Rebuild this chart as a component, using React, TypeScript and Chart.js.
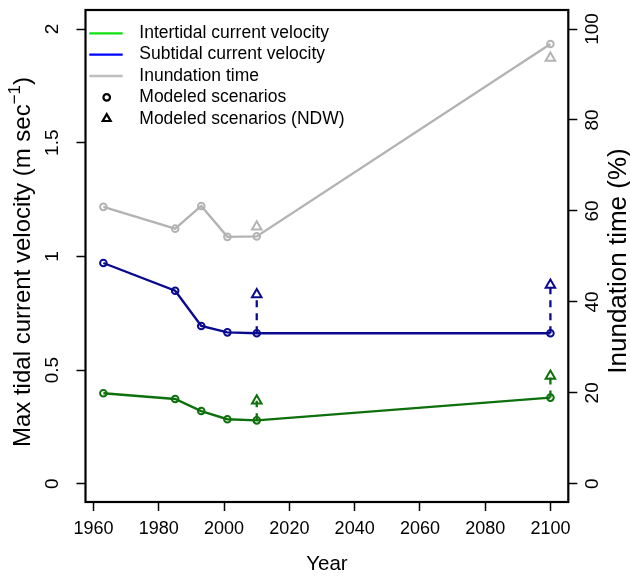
import React, { useEffect, useRef } from "react";
import { Chart, registerables } from "chart.js";

Chart.register(...registerables);

// ---- data ----
const years = [1963, 1985, 1993, 2001, 2010, 2100];
const intertidal = [0.398, 0.373, 0.32, 0.284, 0.279, 0.379];
const subtidal = [0.971, 0.849, 0.694, 0.666, 0.662, 0.662];
const inundation = [60.9, 56.1, 61.1, 54.3, 54.4, 96.7];

const ndwYears = [2010, 2100];
const intertidalNDW = [0.365, 0.474];
const subtidalNDW = [0.833, 0.874];
const inundationNDW = [56.5, 93.6];

const xTicks = [1960, 1980, 2000, 2020, 2040, 2060, 2080, 2100];
const leftTicks = [0, 0.5, 1, 1.5, 2];
const rightTicks = [0, 20, 40, 60, 80, 100];

const legendLabels = [
  "Intertidal current velocity",
  "Subtidal current velocity",
  "Inundation time",
  "Modeled scenarios",
  "Modeled scenarios (NDW)",
];

const xTitle = "Year";
const leftTitle = "Max tidal current velocity (m sec";
const leftTitleSup = "\u22121";
const rightTitle = "Inundation time (%)";

// ---- styles ----
const FONT = "'Liberation Sans', Arial, Helvetica, sans-serif";
const GREEN = "#0d700d";
const BLUE = "#0a0a90";
const GRAY = "#b3b3b3";
const LEG_GREEN = "#10e010";
const LEG_BLUE = "#0000ff";
const LEG_GRAY = "#bebebe";

const pts = (xs: number[], ys: number[]) => xs.map((x, i) => ({ x, y: ys[i] }));

const dashSegments = (base: number[], ndw: number[]) =>
  ndwYears.map((yr, i) => {
    const idx = years.indexOf(yr);
    return [
      { x: yr, y: base[idx] },
      { x: yr, y: ndw[i] },
    ];
  });

const overlayPlugin = {
  id: "overlay",
  afterDraw(chart: any) {
    const { ctx, chartArea } = chart;
    const { left, top, right, bottom } = chartArea;
    ctx.save();
    // box
    ctx.strokeStyle = "#000";
    ctx.lineWidth = 2.2;
    ctx.strokeRect(left, top, right - left, bottom - top);

    // legend
    const lx0 = left + 3.8;
    const lx1 = left + 37.2;
    const sx = left + 21.2;
    const tx = left + 53.8;
    const rowY = (i: number) => top + 23.3 + i * 21.35;
    const legColors = [LEG_GREEN, LEG_BLUE, LEG_GRAY];
    ctx.lineWidth = 2.3;
    legColors.forEach((c, i) => {
      ctx.strokeStyle = c;
      ctx.beginPath();
      ctx.moveTo(lx0, rowY(i));
      ctx.lineTo(lx1, rowY(i));
      ctx.stroke();
    });
    ctx.strokeStyle = "#000";
    ctx.lineWidth = 2.2;
    ctx.beginPath();
    ctx.arc(sx, rowY(3), 3.3, 0, Math.PI * 2);
    ctx.stroke();
    const r = 4.6;
    const cy = rowY(4);
    ctx.beginPath();
    ctx.moveTo(sx, cy - r);
    ctx.lineTo(sx + r * 0.866, cy + r * 0.5);
    ctx.lineTo(sx - r * 0.866, cy + r * 0.5);
    ctx.closePath();
    ctx.stroke();

    ctx.fillStyle = "#000";
    ctx.font = `17.5px ${FONT}`;
    ctx.textAlign = "left";
    ctx.textBaseline = "middle";
    legendLabels.forEach((t, i) => ctx.fillText(t, tx, rowY(i)));

    // x title
    ctx.font = `20.5px ${FONT}`;
    ctx.textAlign = "center";
    ctx.fillText(xTitle, (left + right) / 2, 564);

    // left title with superscript
    ctx.save();
    ctx.translate(23, 262);
    ctx.rotate(-Math.PI / 2);
    const mainFont = `24px ${FONT}`;
    const supFont = `17px ${FONT}`;
    ctx.font = mainFont;
    const w1 = ctx.measureText(leftTitle).width;
    const w3 = ctx.measureText(")").width;
    ctx.font = supFont;
    const w2 = ctx.measureText(leftTitleSup).width;
    const total = w1 + w2 + w3;
    let x = -total / 2;
    ctx.textAlign = "left";
    ctx.font = mainFont;
    ctx.fillText(leftTitle, x, 0);
    x += w1;
    ctx.font = supFont;
    ctx.fillText(leftTitleSup, x, -8);
    x += w2;
    ctx.font = mainFont;
    ctx.fillText(")", x, 0);
    ctx.restore();

    // right title
    ctx.save();
    ctx.translate(619, 261);
    ctx.rotate(-Math.PI / 2);
    ctx.font = `26px ${FONT}`;
    ctx.textAlign = "center";
    ctx.textBaseline = "middle";
    ctx.fillText(rightTitle, 0, 0);
    ctx.restore();

    ctx.restore();
  },
};

export default function App() {
  const ref = useRef<HTMLCanvasElement | null>(null);

  useEffect(() => {
    if (!ref.current) return;
    const circlePoint = {
      pointStyle: "circle",
      pointRadius: 3.3,
      pointBorderWidth: 2,
      pointBackgroundColor: "rgba(0,0,0,0)",
      pointHoverRadius: 3.3,
    };
    const triPoint = {
      showLine: false,
      pointStyle: "triangle",
      pointRadius: 5.5,
      pointBorderWidth: 2,
      pointBackgroundColor: "rgba(0,0,0,0)",
      pointHoverRadius: 5.5,
    };
    const dashed = (seg: any[], color: string) => ({
      data: seg,
      borderColor: color,
      borderWidth: 2.3,
      borderDash: [7, 6],
      pointRadius: 0,
      yAxisID: "y",
    });

    const datasets: any[] = [
      { data: pts(ndwYears, intertidalNDW), borderColor: GREEN, ...triPoint, yAxisID: "y" },
      { data: pts(ndwYears, subtidalNDW), borderColor: BLUE, ...triPoint, yAxisID: "y" },
      { data: pts(ndwYears, inundationNDW), borderColor: GRAY, ...triPoint, yAxisID: "y2" },
      ...dashSegments(intertidal, intertidalNDW).map((s) => dashed(s, GREEN)),
      ...dashSegments(subtidal, subtidalNDW).map((s) => dashed(s, BLUE)),
      { data: pts(years, intertidal), borderColor: GREEN, borderWidth: 2.4, ...circlePoint, yAxisID: "y" },
      { data: pts(years, subtidal), borderColor: BLUE, borderWidth: 2.4, ...circlePoint, yAxisID: "y" },
      { data: pts(years, inundation), borderColor: GRAY, borderWidth: 2.4, ...circlePoint, yAxisID: "y2" },
    ];

    const tickFont = { family: FONT, size: 18 };
    const yTickFont = { family: FONT, size: 19 };
    const gridOpts = {
      display: true,
      drawOnChartArea: false,
      drawTicks: true,
      tickLength: 9,
      tickColor: "#000",
      tickWidth: 1.5,
    };
    const noPad = (s: any) => {
      s.paddingTop = 0;
      s.paddingBottom = 0;
      s.paddingLeft = 0;
      s.paddingRight = 0;
    };

    const chart = new Chart(ref.current, {
      type: "line",
      data: { datasets },
      plugins: [overlayPlugin],
      options: {
        animation: false,
        responsive: false,
        events: [],
        layout: { padding: { top: 10, left: 0, right: 0, bottom: 0 } },
        plugins: { legend: { display: false }, tooltip: { enabled: false } },
        scales: {
          x: {
            type: "linear",
            min: 1957.52,
            max: 2105.48,
            afterBuildTicks: (s: any) => {
              s.ticks = xTicks.map((v) => ({ value: v }));
            },
            afterFit: (s: any) => {
              s.height = 75;
              noPad(s);
            },
            grid: gridOpts,
            border: { display: false },
            ticks: {
              font: tickFont,
              color: "#000",
              padding: 7.5,
              maxRotation: 0,
              minRotation: 0,
              autoSkip: false,
              callback: (v: any) => String(v),
            },
          },
          y: {
            type: "linear",
            position: "left",
            min: -0.08,
            max: 2.0836,
            afterBuildTicks: (s: any) => {
              s.ticks = leftTicks.map((v) => ({ value: v }));
            },
            afterFit: (s: any) => {
              s.width = 85.5;
              noPad(s);
            },
            grid: gridOpts,
            border: { display: false },
            ticks: {
              font: yTickFont,
              color: "#000",
              padding: 10.3,
              minRotation: 90,
              maxRotation: 90,
              crossAlign: "center",
              autoSkip: false,
              callback: (v: any) => String(v),
            },
          },
          y2: {
            type: "linear",
            position: "right",
            min: -4,
            max: 104.18,
            afterBuildTicks: (s: any) => {
              s.ticks = rightTicks.map((v) => ({ value: v }));
            },
            afterFit: (s: any) => {
              s.width = 61.7;
              noPad(s);
            },
            grid: gridOpts,
            border: { display: false },
            ticks: {
              font: yTickFont,
              color: "#000",
              padding: 0,
              minRotation: 90,
              maxRotation: 90,
              crossAlign: "center",
              autoSkip: false,
              callback: (v: any) => String(v),
            },
          },
        },
      } as any,
    });
    return () => chart.destroy();
  }, []);

  return (
    <div style={{ position: "absolute", left: 0, top: 0, width: 630, height: 577, background: "#fff" }}>
      <canvas ref={ref} width={630} height={577} style={{ width: 630, height: 577, display: "block" }} />
    </div>
  );
}
